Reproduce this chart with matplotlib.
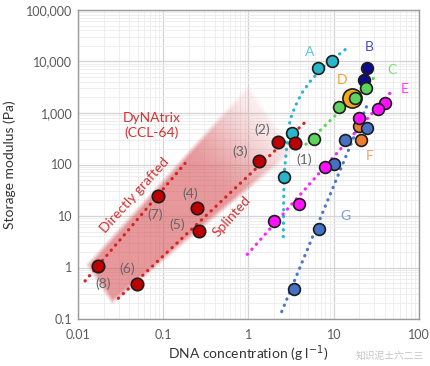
import numpy as np
import matplotlib
matplotlib.use("Agg")
import matplotlib.pyplot as plt

plt.rcParams['font.family'] = ['Lato', 'DejaVu Sans']

# ---------------- data ----------------
x_ticks = [0.01, 0.1, 1, 10, 100]
x_labels = ["0.01", "0.1", "1", "10", "100"]
y_ticks = [0.1, 1, 10, 100, 1000, 10000, 100000]
y_labels = ["0.1", "1", "10", "100", "1,000", "10,000", "100,000"]

# DyNAtrix (CCL-64) points (1)-(8)
red_x = [3.51, 2.20, 1.33, 0.247, 0.262, 0.049, 0.086, 0.017]
red_y = [258, 270, 119, 14, 5.1, 0.47, 24.5, 1.07]
red_tags = ["(1)", "(2)", "(3)", "(4)", "(5)", "(6)", "(7)", "(8)"]
tag_x = [4.48, 1.43, 0.795, 0.206, 0.144, 0.0373, 0.080, 0.0198]
tag_y = [122, 468, 177, 27.6, 6.7, 0.964, 10.4, 0.479]

grafted_x = [0.0121, 0.18]
grafted_y = [0.547, 105]
splinted_x = [0.0297, 4.85]
splinted_y = [0.252, 715]

# band corners (data units), from the upper-left end round the shape
band_x = [0.0131, 0.0251, 3.24, 0.986]
band_y = [1.12, 0.214, 175, 3055]

# literature series
A_x = [6.6, 9.6, 3.27, 2.61]
A_y = [7380, 10400, 414, 58]
A_line_x = [2.56, 2.61, 2.81, 3.07, 3.51, 4.21, 5.26, 7.54, 13.9]
A_line_y = [3.96, 62.5, 222, 731, 1324, 2420, 4060, 7930, 17500]

B_x = [24.3, 22.6]
B_y = [7590, 4380]

C_x = [23.7, 17.8, 11.6, 5.86]
C_y = [3020, 1980, 1290, 313]
C_line_x = [4.72, 31.9]
C_line_y = [247, 5470]

D_x = [16.2]
D_y = [1950]

E_x = [39.9, 32.8, 19.8, 7.9, 3.94, 1.97]
E_y = [1540, 1180, 789, 90.6, 17.1, 8.0]
E_line_x = [0.97, 46.5]
E_line_y = [1.8, 2520]

F_x = [19.8, 20.7]
F_y = [560, 299]

G_x = [10.2, 13.6, 24.3, 6.78, 3.42]
G_y = [101, 299, 505, 5.6, 0.38]
G_line_x = [2.45, 25.2]
G_line_y = [0.139, 1563]

letters = ["A", "B", "C", "D", "E", "F", "G"]
letter_x = [5.17, 26.1, 47.9, 12.4, 68.6, 26.6, 13.6]
letter_y = [15500, 18900, 6840, 4380, 2880, 146, 10]
letter_colors = ["#5cc6dc", "#4a4ac4", "#6ee06e", "#f0a030", "#ff3cff", "#f4a36e", "#7a9fdc"]

# ---------------- figure ----------------
fig = plt.figure(figsize=(4.31, 3.66), dpi=100)
ax = fig.add_axes([78 / 431, 1 - 319 / 366, 341 / 431, 309 / 366])
ax.set_xscale("log")
ax.set_yscale("log")
ax.set_xlim(0.01, 100)
ax.set_ylim(0.1, 100000)

ax.set_xticks(x_ticks)
ax.set_xticklabels(x_labels)
ax.set_yticks(y_ticks)
ax.set_yticklabels(y_labels)
ax.tick_params(which="both", length=0, labelsize=9, labelcolor="#5a5a5a", pad=4)
ax.tick_params(axis="x", pad=7)
ax.grid(which="major", color="#d4d4d4", lw=0.9)
ax.grid(which="minor", color="#ebebeb", lw=0.6)
ax.set_axisbelow(True)
for sp in ax.spines.values():
    sp.set_color("#9a9a9a")
    sp.set_linewidth(1.0)

ax.set_xlabel("DNA concentration (g l$^{-1}$)", fontsize=10, color="#333333", labelpad=2)
ax.set_ylabel("Storage modulus (Pa)", fontsize=10, color="#333333", labelpad=7)

# ---------------- soft red band ----------------
pts = ax.transData.transform(np.column_stack([band_x, band_y]))
bb = ax.bbox
gx = np.linspace(bb.x0, bb.x1, 700)
gy = np.linspace(bb.y0, bb.y1, 630)
X, Y = np.meshgrid(gx, gy)
# signed distance to the inside of the convex polygon
dist = np.full(X.shape, np.inf)
centre = pts.mean(axis=0)
for i in range(len(pts)):
    a = pts[i]
    b = pts[(i + 1) % len(pts)]
    e = b - a
    nrm = np.array([-e[1], e[0]]) / np.hypot(*e)
    if np.dot(centre - a, nrm) < 0:
        nrm = -nrm
    dist = np.minimum(dist, (X - a[0]) * nrm[0] + (Y - a[1]) * nrm[1])
soft = 5.0
edge = np.clip(dist / soft + 0.5, 0, 1)
left_mid = (pts[0] + pts[1]) / 2
right_mid = (pts[2] + pts[3]) / 2
axis_vec = right_mid - left_mid
u = ((X - left_mid[0]) * axis_vec[0] + (Y - left_mid[1]) * axis_vec[1]) / np.dot(axis_vec, axis_vec)
t = np.clip((u - 0.62) / 0.42, 0, 1)
fade = 1 - 0.85 * t * t * (3 - 2 * t)
alpha = 0.6 * edge * fade
img = np.zeros(X.shape + (4,))
img[..., 0] = 0.84
img[..., 1] = 0.33
img[..., 2] = 0.35
img[..., 3] = alpha
ax.imshow(img, extent=[0, 1, 0, 1], transform=ax.transAxes, origin="lower",
          aspect="auto", interpolation="bilinear", zorder=1)
ax.set_xlim(0.01, 100)
ax.set_ylim(0.1, 100000)

# ---------------- dotted guide lines ----------------
dot = dict(lw=2.3, linestyle=(0, (0.1, 2.0)), dash_capstyle="round", zorder=3)
ax.plot(grafted_x, grafted_y, color="#d42424", **dot)
ax.plot(splinted_x, splinted_y, color="#d42424", **dot)
ax.plot(A_line_x, A_line_y, color="#2bb7cc", **dot)
ax.plot(C_line_x, C_line_y, color="#5cd65c", **dot)
ax.plot(E_line_x, E_line_y, color="#ff22ff", **dot)
ax.plot(G_line_x, G_line_y, color="#4a78c8", **dot)

# ---------------- points ----------------
mk = dict(edgecolors="#1c1c1c", linewidths=1.2, zorder=5)
ax.scatter(D_x, D_y, s=190, color="#f5a623", **mk)
ax.scatter(A_x, A_y, s=72, color="#2bb5cb", **mk)
ax.scatter(B_x, B_y, s=72, color="#0b0b8c", **mk)
ax.scatter(F_x, F_y, s=72, color="#ee7d31", **mk)
ax.scatter(G_x, G_y, s=72, color="#4572c4", **mk)
ax.scatter(E_x, E_y, s=72, color="#ff10ff", **mk)
ax.scatter(C_x, C_y, s=72, color="#5dd35d", edgecolors="#1c1c1c", linewidths=1.2, zorder=6)
ax.scatter(red_x, red_y, s=80, color="#c00000", **mk)

# ---------------- text ----------------
for t_, tx, ty in zip(red_tags, tag_x, tag_y):
    ax.text(tx, ty, t_, fontsize=10, color="#666666", ha="center", va="center", zorder=7)
for t_, tx, ty, c in zip(letters, letter_x, letter_y, letter_colors):
    ax.text(tx, ty, t_, fontsize=10, color=c, ha="center", va="center", zorder=7)

ax.text(0.0738, 572, "DyNAtrix\n(CCL-64)", fontsize=10, color="#d63030",
        ha="center", va="center", linespacing=1.2, zorder=7)
ax.text(0.0467, 25.6, "Directly grafted", fontsize=10, color="#d63030",
        ha="center", va="center", rotation=48, rotation_mode="anchor", zorder=7)
ax.text(0.635, 10, "Splinted", fontsize=10, color="#d63030",
        ha="center", va="center", rotation=48, rotation_mode="anchor", zorder=7)

fig.text(390 / 431, 1 - 356 / 366, "知识泥土六二三", fontsize=7, color="#c4c4c4",
         ha="center", va="center", family=["Noto Sans CJK SC", "DejaVu Sans"])

fig.savefig("out.png", dpi=100)
